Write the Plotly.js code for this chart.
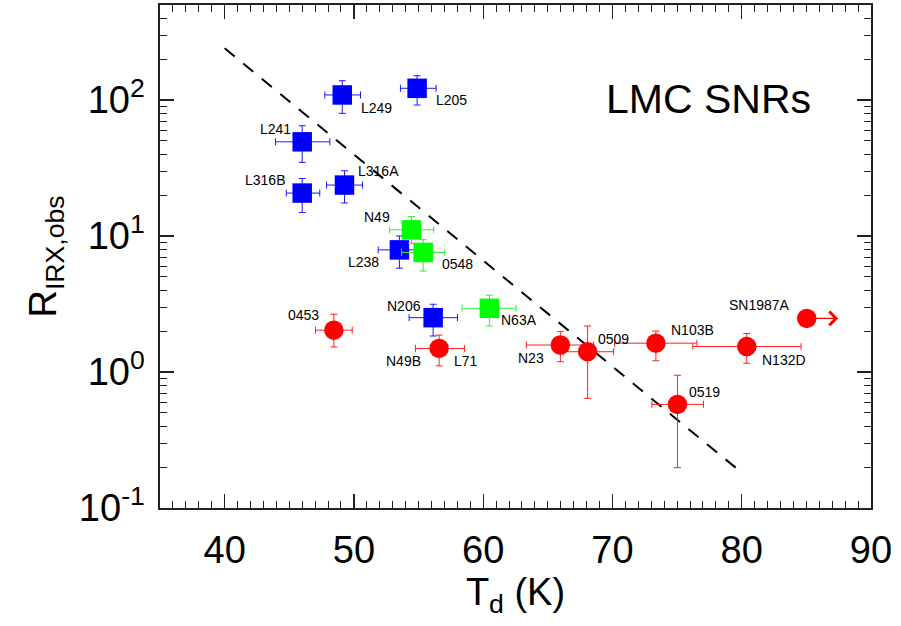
<!DOCTYPE html>
<html>
<head>
<meta charset="utf-8">
<script src="https://cdn.plot.ly/plotly-3.0.1.min.js"></script>
<style>html,body{margin:0;padding:0;background:#fff;}#chart{width:901px;height:626px;}</style>
</head>
<body>
<div id="chart"></div>
<script>
// ---- data ----
const blueNames = ['L249','L205','L241','L316B','L316A','L238','N206'];
const blueT   = [49.10, 54.89, 46.00, 46.00, 49.27, 53.52, 56.13];
const blueTlo = [47.75, 53.60, 43.94, 44.77, 47.88, 51.88, 54.27];
const blueThi = [50.51, 56.36, 48.14, 47.36, 50.66, 55.22, 58.01];
const blueR   = [109, 122, 49.3, 20.7, 23.7, 7.91, 2.51];
const blueRlo = [79.8, 91.9, 34.8, 14.9, 17.5, 5.80, 1.84];
const blueRhi = [138.7, 151, 64.7, 26.5, 30.2, 10.0, 3.15];

const greenNames = ['N49','0548','N63A'];
const greenT   = [54.45, 55.36, 60.48];
const greenTlo = [52.75, 53.69, 58.37];
const greenThi = [56.17, 57.03, 62.54];
const greenR   = [11.1, 7.57, 2.94];
const greenRlo = [8.8, 5.53, 2.18];
const greenRhi = [13.9, 9.4, 3.67];

const redNames = ['0453','N49B','N23','0509','N103B','N132D','0519','SN1987A'];
const redT   = [48.45, 56.59, 65.97, 68.08, 73.36, 80.39, 75.03, 85.03];
const redTlo = [47.03, 54.76, 63.34, 66.22, 70.16, 76.22, 73.05, 85.03];
const redThi = [49.87, 58.55, 68.54, 70.08, 76.53, 84.59, 77.04, 85.03];
const redR   = [2.03, 1.49, 1.58, 1.41, 1.63, 1.54, 0.578, 2.48];
const redRlo = [1.53, 1.11, 1.19, 0.64, 1.21, 1.16, 0.198, 2.48];
const redRhi = [2.66, 1.87, 1.98, 2.18, 2.00, 1.92, 0.946, 2.48];
const lowerLimitNames = ['SN1987A'];

const fitT = [40, 80];
const fitR = [240, 0.182];

const xTickVals = [40, 50, 60, 70, 80, 90];
const yTickVals = [0.1, 1, 10, 100];
const yTickText = ['10<sup>-1</sup>', '10<sup>0</sup>', '10<sup>1</sup>', '10<sup>2</sup>'];
const yMinorVals = [0.2,0.3,0.4,0.5,0.6,0.7,0.8,0.9,2,3,4,5,6,7,8,9,20,30,40,50,60,70,80,90,200,300,400,500];

// ---- styles ----
const FONT = 'Liberation Sans, Arial, Helvetica, sans-serif';
const labelStyle = { // pixel offsets (dx right, dy down) from the point
  'L249':[34,13], 'L205':[34,12], 'L241':[-27,-13], 'L316B':[-37,-13], 'L316A':[34,-14],
  'L238':[-36,12], 'N206':[-29,-12], 'N49':[-34,-13], '0548':[34,12], 'N63A':[30,12],
  '0453':[-30,-15], 'N49B':[-36,13], 'N23':[-29,13], '0509':[26,-13], 'N103B':[37,-13],
  'N132D':[37,13], '0519':[27,-12], 'SN1987A':[-47,-13]
};
const extraLabels = [{text:'L71', of:'N49B', dx:27, dy:13}];

function errs(v, lo, hi) {
  return {plus: hi.map((h,i)=>h - v[i]), minus: lo.map((l,i)=>v[i] - l)};
}
function group(names, T, Tlo, Thi, R, Rlo, Rhi, color, symbol, errColor) {
  const ex = errs(T, Tlo, Thi), ey = errs(R, Rlo, Rhi);
  return {
    x: T, y: R, text: names, type: 'scatter', mode: 'markers',
    marker: {color: color, symbol: symbol, size: 19.5, line: {width: 0}},
    error_x: {type:'data', symmetric:false, array: ex.plus, arrayminus: ex.minus,
              color: errColor, thickness: 1, width: 3.5, visible: true},
    error_y: {type:'data', symmetric:false, array: ey.plus, arrayminus: ey.minus,
              color: errColor, thickness: 1, width: 3.5, visible: true},
    hoverinfo: 'text', showlegend: false
  };
}

const traces = [
  {x: fitT, y: fitR, type:'scatter', mode:'lines',
   line:{color:'#000', width:2, dash:'13px,11px'}, showlegend:false, hoverinfo:'skip'},
  group(blueNames, blueT, blueTlo, blueThi, blueR, blueRlo, blueRhi, '#0000ff', 'square', '#1a1aff'),
  group(greenNames, greenT, greenTlo, greenThi, greenR, greenRlo, greenRhi, '#00ff00', 'square', '#33ee33'),
  group(redNames, redT, redTlo, redThi, redR, redRlo, redRhi, '#ff0000', 'circle', '#ff2020')
];

// label annotations
const allNames = blueNames.concat(greenNames, redNames);
const allT = blueT.concat(greenT, redT);
const allR = blueR.concat(greenR, redR);
const annotations = [];
allNames.forEach((n, i) => {
  const s = labelStyle[n];
  annotations.push({x: allT[i], y: Math.log10(allR[i]), text: n, showarrow: false,
    xanchor: 'center', yanchor: 'middle',
    xshift: s[0], yshift: -s[1], font: {family: FONT, size: 14, color: '#000'}});
});
extraLabels.forEach(e => {
  const i = allNames.indexOf(e.of);
  annotations.push({x: allT[i], y: Math.log10(allR[i]), text: e.text, showarrow: false,
    xanchor: 'center', yanchor: 'middle',
    xshift: e.dx, yshift: -e.dy, font: {family: FONT, size: 14, color: '#000'}});
});
// lower-limit arrows
lowerLimitNames.forEach(n => {
  const i = allNames.indexOf(n);
  annotations.push({x: allT[i], y: Math.log10(allR[i]), text: '', showarrow: true,
    ax: 33, ay: 0, arrowside: 'start', startarrowhead: 4, startarrowsize: 2.2,
    arrowwidth: 1.2, arrowcolor: '#ff0000', standoff: 0, startstandoff: 0});
});
annotations.push({xref:'paper', yref:'paper', x: 0.772, y: 0.813, text: 'LMC SNRs',
  xanchor: 'center', yanchor: 'middle',
  showarrow: false, font: {family: FONT, size: 41, color: '#000'}});

const axisCommon = {
  showline: true, linecolor: '#222', linewidth: 1.6, mirror: 'ticks',
  ticks: 'inside', ticklen: 14, tickwidth: 1.2, tickcolor: '#222',
  showgrid: false, zeroline: false,
  tickfont: {family: FONT, size: 38, color: '#000'}
};

const layout = {
  width: 901, height: 626,
  margin: {l: 160, r: 30, t: 5, b: 118, pad: 0},
  paper_bgcolor: '#fff', plot_bgcolor: '#fff',
  font: {family: FONT, color: '#000'},
  xaxis: Object.assign({}, axisCommon, {
    range: [35, 90], tickmode: 'array', tickvals: xTickVals,
    ticklabelstandoff: 8,
    minor: {dtick: 1, tick0: 0, ticks: 'inside', ticklen: 7, tickwidth: 1, tickcolor: '#222', showgrid: false},
    title: {text: 'T<sub>d</sub> (K)', font: {family: FONT, size: 38, color: '#000'}, standoff: 4}
  }),
  yaxis: Object.assign({}, axisCommon, {
    type: 'log', range: [-1, Math.log10(500)],
    tickmode: 'array', tickvals: yTickVals, ticktext: yTickText,
    ticklabelstandoff: 6,
    minor: {tickmode: 'array', tickvals: yMinorVals, ticks: 'inside', ticklen: 7, tickwidth: 1, tickcolor: '#222', showgrid: false},
    title: {text: 'R<sub>IRX,obs</sub>', font: {family: FONT, size: 38, color: '#000'}, standoff: 10}
  }),
  annotations: annotations
};

Plotly.newPlot('chart', traces, layout, {displayModeBar: false, staticPlot: true});
</script>
</body>
</html>
